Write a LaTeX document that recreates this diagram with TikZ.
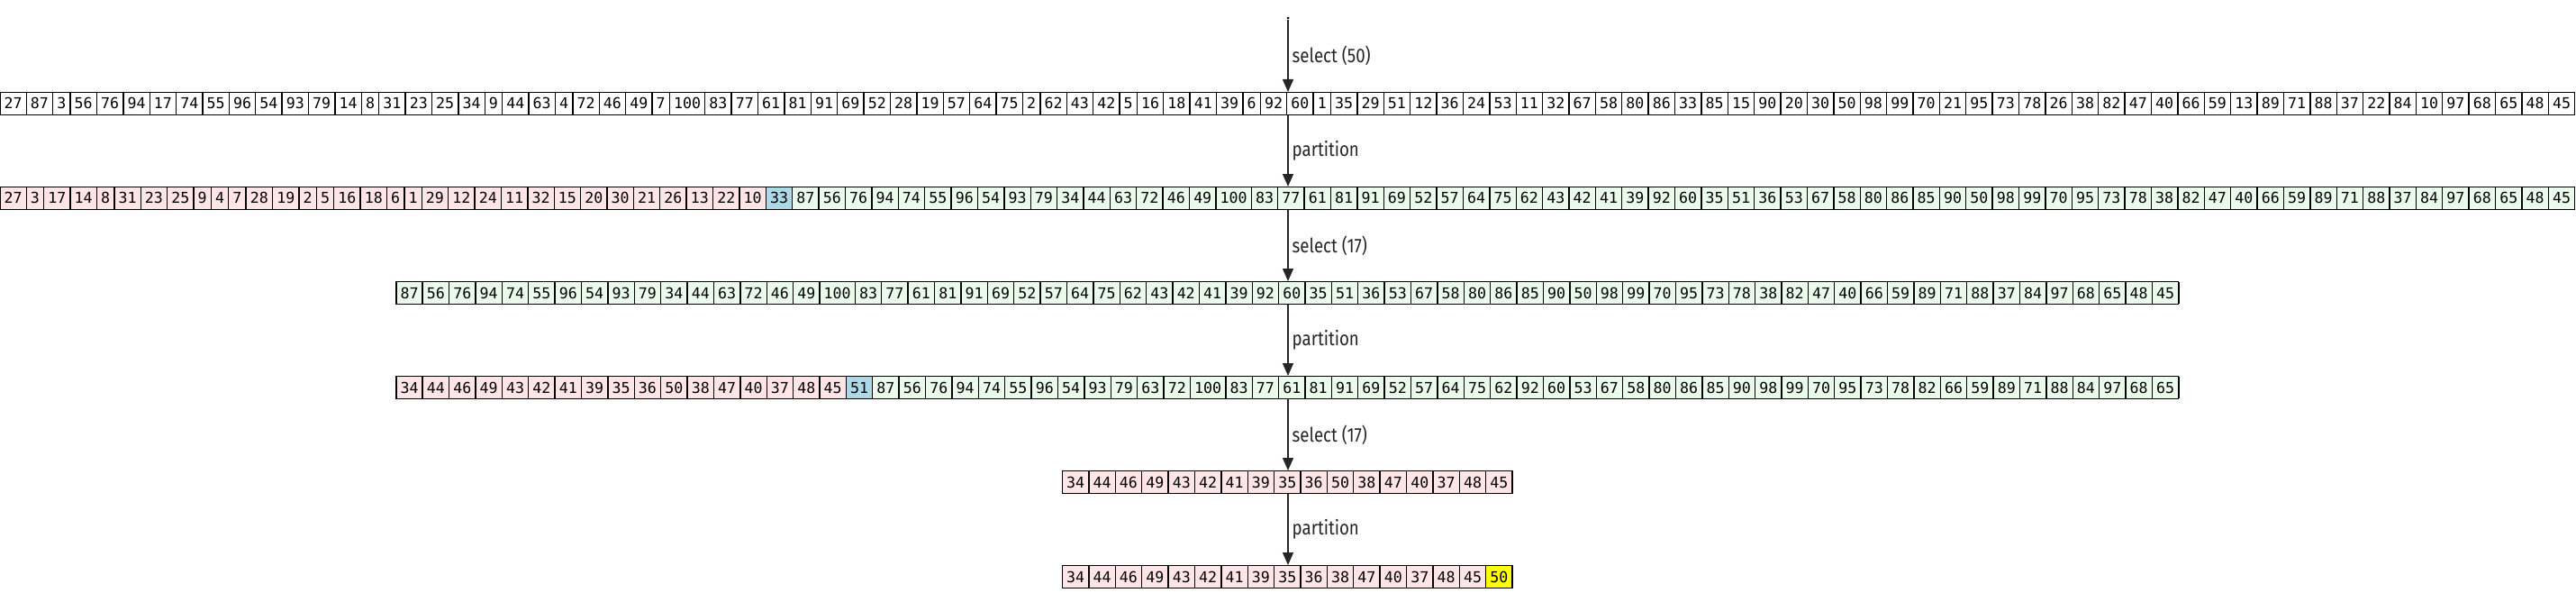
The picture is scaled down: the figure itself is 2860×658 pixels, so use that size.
\documentclass[tikz,border=0pt]{standalone}
\usepackage{fontspec}
\usepackage{tikz}
\usetikzlibrary{arrows.meta,positioning}
\newfontfamily\cellfont{DejaVu Sans Mono}
\newfontfamily\lblfont[FakeStretch=0.85]{Fira Sans}
\definecolor{lopink}{HTML}{FFE4E8}
\definecolor{higreen}{HTML}{EBFBEB}
\definecolor{pivblue}{HTML}{ADD8E6}
\definecolor{foundyel}{HTML}{FFFF00}
\setlength{\fboxsep}{0pt}
\setlength{\fboxrule}{0.7pt}
\newcommand{\arrcell}[2]{\kern-0.7pt\fcolorbox{black}{#1}{\hspace{2pt}\rule[-2.8pt]{0pt}{11.6pt}#2\hspace{2pt}}}
\newcommand{\arrcells}[2]{\foreach \n in {#2}{\arrcell{#1}{\n}}}
\tikzset{
  row/.style={inner sep=0pt,outer sep=0pt,font=\cellfont\fontsize{8.3}{10}\selectfont},
  flow/.style={-{Triangle[width=6pt,length=7pt]},line width=0.7pt,black!85},
  lbl/.style={anchor=west,inner sep=2pt,font=\lblfont\fontsize{11}{13}\selectfont}
}
\begin{document}
\begin{tikzpicture}[x=0.5pt,y=-0.5pt]
\useasboundingbox (0,0) rectangle (2860,658);
\node[circle,fill,inner sep=0pt,minimum size=1.5pt] (start) at (1430,20) {};
\node[row] (r1) at (1430,115) {\arrcells{white}{27,87,3,56,76,94,17,74,55,96,54,93,79,14,8,31,23,25,34,9,44,63,4,72,46,49,7,100,83,77,61,81,91,69,52,28,19,57,64,75,2,62,43,42,5,16,18,41,39,6,92,60,1,35,29,51,12,36,24,53,11,32,67,58,80,86,33,85,15,90,20,30,50,98,99,70,21,95,73,78,26,38,82,47,40,66,59,13,89,71,88,37,22,84,10,97,68,65,48,45}};
\node[row] (r2) at (1430,220) {\arrcells{lopink}{27,3,17,14,8,31,23,25,9,4,7,28,19,2,5,16,18,6,1,29,12,24,11,32,15,20,30,21,26,13,22,10}\arrcells{pivblue}{33}\arrcells{higreen}{87,56,76,94,74,55,96,54,93,79,34,44,63,72,46,49,100,83,77,61,81,91,69,52,57,64,75,62,43,42,41,39,92,60,35,51,36,53,67,58,80,86,85,90,50,98,99,70,95,73,78,38,82,47,40,66,59,89,71,88,37,84,97,68,65,48,45}};
\node[row] (r3) at (1430,325) {\arrcells{higreen}{87,56,76,94,74,55,96,54,93,79,34,44,63,72,46,49,100,83,77,61,81,91,69,52,57,64,75,62,43,42,41,39,92,60,35,51,36,53,67,58,80,86,85,90,50,98,99,70,95,73,78,38,82,47,40,66,59,89,71,88,37,84,97,68,65,48,45}};
\node[row] (r4) at (1430,430) {\arrcells{lopink}{34,44,46,49,43,42,41,39,35,36,50,38,47,40,37,48,45}\arrcells{pivblue}{51}\arrcells{higreen}{87,56,76,94,74,55,96,54,93,79,63,72,100,83,77,61,81,91,69,52,57,64,75,62,92,60,53,67,58,80,86,85,90,98,99,70,95,73,78,82,66,59,89,71,88,84,97,68,65}};
\node[row] (r5) at (1430,535) {\arrcells{lopink}{34,44,46,49,43,42,41,39,35,36,50,38,47,40,37,48,45}};
\node[row] (r6) at (1430,640) {\arrcells{lopink}{34,44,46,49,43,42,41,39,35,36,38,47,40,37,48,45}\arrcells{foundyel}{50}};
\draw[flow] (start) -- node[lbl] {select (50)} (r1.north);
\draw[flow] (r1.south) -- node[lbl] {partition} (r2.north);
\draw[flow] (r2.south) -- node[lbl] {select (17)} (r3.north);
\draw[flow] (r3.south) -- node[lbl] {partition} (r4.north);
\draw[flow] (r4.south) -- node[lbl] {select (17)} (r5.north);
\draw[flow] (r5.south) -- node[lbl] {partition} (r6.north);
\end{tikzpicture}
\end{document}
